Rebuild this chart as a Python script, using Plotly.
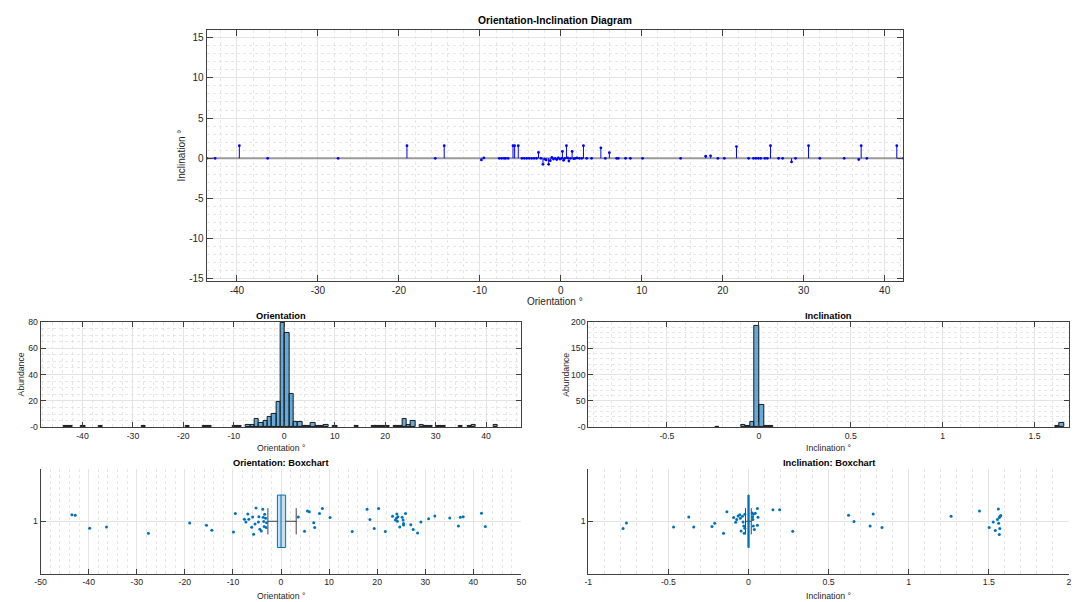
import numpy as np
import plotly.graph_objects as go

W, H = 1076, 602

# ---------------- data ----------------
# Orientation-Inclination stem diagram (orientation °, inclination °)
stem_orientation = [-43.74, -42.7, -39.7, -36.2, -27.5, -19.0, -15.5, -14.4, -9.8, -9.5,
                    -7.6, -7.3, -7.0, -6.8, -6.5, -5.9, -5.7, -5.25, -4.8, -4.5,
                    -4.2, -3.9, -3.6, -3.3, -3.0, -2.75, -2.45, -2.2, -2.0, -1.8,
                    -1.5, -1.3, -1.1, -0.9, -0.7, -0.5, -0.3, -0.1, 0.1, 0.2,
                    0.35, 0.5, 0.7, 0.85, 1.0, 1.2, 1.4, 1.6, 1.8, 2.0,
                    2.3, 2.6, 2.8, 3.2, 3.8, 4.95, 5.5, 6.0, 6.9, 7.1,
                    8.0, 8.6, 10.1, 14.8, 17.9, 18.5, 19.4, 20.2, 21.7, 23.2,
                    23.8, 24.1, 24.4, 24.7, 25.2, 25.5, 25.9, 26.9, 27.4, 28.5,
                    29.0, 30.6, 32.0, 35.0, 36.8, 37.1, 37.8, 41.5, 42.32]
stem_inclination = [0, 0, 1.57, 0, 0, 1.57, 0, 1.57, -0.2, 0.05,
                    0, 0, 0, 0, 0, 1.57, 1.57, 1.57, 0, 0,
                    0, 0, 0, 0, 0, 0.73, 0, -0.75, -0.1, -0.2,
                    -0.75, -0.3, 0.1, -0.1, 0.0, -0.15, 0.05, -0.1, 0.0, 0.85,
                    -0.25, 0.0, 1.57, 0.05, -0.35, 0.0, 0.85, -0.05, 0.0, 0.05,
                    0.0, 0.0, 1.57, 0.0, 0, 1.3, 0, 0.7, 0, 0,
                    0, 0, 0, 0, 0.25, 0.3, 0, 0, 1.45, 0,
                    0, 0, 0, 0, 0, 0, 1.57, 0, 0, -0.45,
                    0, 1.57, 0, 0, -0.15, 1.57, 0, 1.57, 0]

# Orientation histogram: 100 bins starting at -43.74, width 0.8606
ori_bin_start = -43.74
ori_bin_width = 0.8606
ori_counts = [1, 1, 0, 0, 1, 0, 0, 0, 1, 0,
              0, 0, 0, 0, 0, 0, 0, 0, 1, 0,
              0, 0, 0, 0, 0, 0, 0, 0, 1, 0,
              0, 0, 1, 1, 0, 0, 0, 0, 0, 1,
              1, 0, 2, 2, 6, 3, 5, 8, 10, 19,
              79, 72, 25, 4, 4, 1, 1, 3, 1, 1,
              2, 0, 1, 0, 0, 0, 0, 1, 0, 0,
              0, 1, 1, 1, 1, 0, 1, 1, 6, 2,
              5, 0, 2, 1, 1, 0, 1, 1, 0, 0,
              0, 1, 0, 1, 2, 0, 0, 0, 0, 2]

# Inclination histogram (bin centers, counts), bin width 0.025
inc_bin_width = 0.025
inc_centers = [-0.225, -0.085, -0.06, -0.035, -0.01, 0.015, 0.04, 0.065, 1.625, 1.65]
inc_counts = [1, 4, 3, 9, 193, 43, 2, 3, 2, 8]

# Boxchart statistics: q1, median, q3, lower whisker, upper whisker
ori_box = dict(q1=-0.75, med=0.0, q3=0.96, wlo=-2.73, whi=3.16)
inc_box = dict(q1=-0.004, med=0.0, q3=0.004, wlo=-0.019, whi=0.017)

# Jittered outliers (value, jittered position around group 1)
ori_out_x = [-43.5, -42.8, -39.8, -36.3, -27.6, -19.0, -15.5, -14.4, -9.9, -9.5,
             -7.6, -7.3, -6.9, -6.7, -6.1, -5.9, -5.7, -5.4, -5.2, -4.7,
             -4.6, -4.4, -4.1, -3.8, -3.7, -3.6, -3.5, -3.4, -3.2, -3.1,
             -3.0, 3.6, 4.9, 5.5, 5.9, 6.8, 7.0, 8.0, 8.6, 10.2,
             14.8, 17.9, 18.5, 19.4, 20.3, 21.7, 23.2, 23.8, 24.0, 24.1,
             24.2, 24.3, 24.7, 25.2, 25.4, 25.5, 25.5, 25.9, 27.0, 27.5,
             28.4, 29.1, 30.7, 32.0, 35.1, 36.9, 37.3, 37.9, 41.7, 42.5]
ori_out_y = [1.063, 1.057, 0.933, 0.946, 0.886, 0.984, 0.962, 0.914, 0.898, 1.073,
             1.019, 0.994, 1.070, 1.019, 0.943, 1.041, 0.876, 0.975, 1.127, 0.994,
             1.044, 0.924, 0.908, 1.114, 1.038, 0.997, 0.949, 1.067, 1.029, 0.940,
             0.987, 1.041, 0.905, 1.098, 1.092, 0.987, 0.940, 1.073, 1.121, 1.035,
             0.902, 1.114, 1.016, 0.930, 1.121, 0.902, 1.048, 1.013, 1.029, 1.070,
             1.000, 1.044, 0.946, 1.038, 1.013, 0.978, 0.965, 1.073, 0.968, 0.921,
             0.889, 0.994, 1.025, 1.051, 1.032, 0.956, 1.038, 1.044, 1.076, 0.949]

inc_out_x = [-0.783, -0.762, -0.468, -0.373, -0.342, -0.228, -0.211, -0.156, -0.135, -0.093,
             -0.080, -0.074, -0.065, -0.055, -0.051, -0.046, -0.038, -0.034, -0.030, -0.027,
             -0.023, -0.023, 0.023, 0.025, 0.027, 0.030, 0.030, 0.036, 0.042, 0.055,
             0.055, 0.059, 0.152, 0.194, 0.276, 0.624, 0.658, 0.759, 0.778, 0.833,
             1.264, 1.441, 1.502, 1.527, 1.540, 1.553, 1.559, 1.561, 1.565, 1.568,
             1.570, 1.565, 1.574]
inc_out_y = [0.930, 0.984, 0.946, 1.041, 0.946, 0.949, 0.981, 0.886, 1.092, 1.035,
             0.990, 1.016, 1.051, 1.063, 1.029, 0.908, 1.048, 0.994, 0.956, 0.886,
             1.067, 0.933, 1.079, 1.041, 1.016, 1.067, 0.956, 0.921, 1.076, 1.121,
             0.962, 1.038, 1.111, 1.111, 0.905, 1.057, 0.997, 0.956, 1.070, 0.940,
             1.048, 1.098, 0.940, 0.994, 0.911, 1.016, 1.117, 0.981, 1.035, 0.930,
             1.048, 0.873, 1.054]

# ---------------- styling ----------------
FONT = "Liberation Sans, Arial, Helvetica, sans-serif"
AXC = "#404040"
TXT = "#262626"
GRID = "#E4E4E4"
MGRID = "#E6E6E6"
MBLUE = "#0072BD"


def fx(px):
    return px / W


def fy(py):
    return 1 - py / H


def fmt(v):
    return "%g" % v


def axis(rng, major, minor, dom, anchor, box=True, fs=8.7, ticklen=5,
         tickvals=None, grid=True):
    if tickvals is None:
        start = np.ceil(rng[0] / major - 1e-9) * major
        tickvals = list(np.round(np.arange(start, rng[1] + 1e-9, major), 6))
    d = dict(
        range=rng, domain=dom, anchor=anchor,
        tickvals=tickvals, ticktext=[fmt(v) for v in tickvals],
        showline=True, linecolor=AXC, linewidth=1,
        mirror="ticks" if box else False,
        ticks="inside", ticklen=ticklen, tickcolor=AXC, tickwidth=1,
        tickfont=dict(family=FONT, size=fs, color=TXT),
        showgrid=grid, gridcolor=GRID, gridwidth=1, zeroline=False,
        fixedrange=True,
    )
    if minor is not None:
        d["minor"] = dict(dtick=minor, tick0=0, showgrid=True, gridcolor=MGRID,
                          griddash="dot", gridwidth=1, ticks="")
    return d


fig = go.Figure()

# ---- top: stem plot ----
o = np.array(stem_orientation)
inc = np.array(stem_inclination)
xmin, xmax = float(o.min()), float(o.max())
fig.add_trace(go.Scatter(x=[xmin, xmax], y=[0, 0], mode="lines",
                         line=dict(color="#9A9A9A", width=2), xaxis="x", yaxis="y",
                         hoverinfo="skip", showlegend=False))
sx, sy = [], []
for a, b in zip(o, inc):
    sx += [a, a, None]
    sy += [0, b, None]
fig.add_trace(go.Scatter(x=sx, y=sy, mode="lines", line=dict(color="#0000FF", width=1),
                         xaxis="x", yaxis="y", showlegend=False, hoverinfo="skip"))
fig.add_trace(go.Scatter(x=o, y=inc, mode="markers",
                         marker=dict(color="#0000FF", size=2.8),
                         xaxis="x", yaxis="y", showlegend=False))

# ---- orientation histogram ----
oc = np.array(ori_counts)
ocent = ori_bin_start + (np.arange(len(oc)) + 0.5) * ori_bin_width
nz = oc > 0
fig.add_trace(go.Bar(x=ocent[nz], y=oc[nz], width=ori_bin_width,
                     marker=dict(color="rgba(0,114,189,0.6)",
                                 line=dict(color="#1A1A1A", width=1)),
                     xaxis="x2", yaxis="y2", showlegend=False))

# ---- inclination histogram ----
fig.add_trace(go.Bar(x=inc_centers, y=inc_counts, width=inc_bin_width,
                     marker=dict(color="rgba(0,114,189,0.6)",
                                 line=dict(color="#1A1A1A", width=1)),
                     xaxis="x3", yaxis="y3", showlegend=False))


# ---- boxcharts ----
def add_box(stats, ox, oy, xa, ya):
    wx = [stats["wlo"], stats["q1"], None, stats["q3"], stats["whi"], None,
          stats["wlo"], stats["wlo"], None, stats["whi"], stats["whi"]]
    wy = [1, 1, None, 1, 1, None, 0.875, 1.125, None, 0.875, 1.125]
    fig.add_trace(go.Scatter(x=wx, y=wy, mode="lines", line=dict(color="#404040", width=1),
                             xaxis=xa, yaxis=ya, showlegend=False, hoverinfo="skip"))
    fig.add_trace(go.Box(y=[1], q1=[stats["q1"]], median=[stats["med"]], q3=[stats["q3"]],
                         lowerfence=[stats["q1"]], upperfence=[stats["q3"]],
                         orientation="h", width=0.5, whiskerwidth=0,
                         fillcolor="rgba(0,114,189,0.22)",
                         line=dict(color=MBLUE, width=1), boxpoints=False,
                         xaxis=xa, yaxis=ya, showlegend=False))
    fig.add_trace(go.Scatter(x=ox, y=oy, mode="markers",
                             marker=dict(color=MBLUE, size=3),
                             xaxis=xa, yaxis=ya, showlegend=False))


add_box(ori_box, ori_out_x, ori_out_y, "x4", "y4")
add_box(inc_box, inc_out_x, inc_out_y, "x5", "y5")

# ---------------- layout ----------------
L1, R1 = 35, 520.7
L2, R2 = 588.3, 1074
HT, HB = 322.3, 429.3
BT, BB = 471.7, 578.3

layout = dict(
    width=W, height=H, margin=dict(l=0, r=0, t=0, b=0),
    paper_bgcolor="white", plot_bgcolor="white", showlegend=False,
    bargap=0, barmode="overlay", boxmode="overlay",
    xaxis=axis([-43.74, 42.32], 10, 2, [fx(202.7), fx(906.7)], "y", fs=10, ticklen=6),
    yaxis=axis([-15.26, 16.0], 5, 1, [fy(280.7), fy(25)], "x", fs=10, ticklen=6),
    xaxis2=axis([-48.3, 47.0], 10, 2, [fx(L1), fx(R1)], "y2"),
    yaxis2=axis([0, 80], 20, 5, [fy(HB), fy(HT)], "x2"),
    xaxis3=axis([-0.928, 1.688], 0.5, 0.1, [fx(L2), fx(R2)], "y3"),
    yaxis3=axis([0, 200], 50, 10, [fy(HB), fy(HT)], "x3"),
    xaxis4=axis([-50, 50], 10, 2, [fx(L1), fx(R1)], "y4", box=False),
    yaxis4=axis([0.5, 1.5], 1, None, [fy(BB), fy(BT)], "x4", box=False, tickvals=[1]),
    xaxis5=axis([-1, 2], 0.5, 0.1, [fx(L2), fx(R2)], "y5", box=False),
    yaxis5=axis([0.5, 1.5], 1, None, [fy(BB), fy(BT)], "x5", box=False, tickvals=[1]),
)

annotations = []


def text(t, x, y, size, bold=False, angle=0, color=TXT):
    annotations.append(dict(
        text=("<b>%s</b>" % t) if bold else t, x=fx(x), y=fy(y), xref="paper", yref="paper",
        showarrow=False, xanchor="center", yanchor="middle", textangle=angle,
        font=dict(family=FONT, size=size, color=color)))


text("Orientation-Inclination Diagram", (202.7 + 906.7) / 2, 16, 10.3, bold=True, color="#000")
text("Orientation °", (202.7 + 906.7) / 2, 302, 10)
text("Inclination °", 177, (25 + 280.7) / 2, 10, angle=-90)

text("Orientation", (L1 + R1) / 2, 316, 9.3, bold=True, color="#000")
text("Inclination", (L2 + R2) / 2, 316, 9.3, bold=True, color="#000")
text("Abundance", 15, (HT + HB) / 2, 8.7, angle=-90)
text("Abundance", 565, (HT + HB) / 2, 8.7, angle=-90)
text("Orientation °", (L1 + R1) / 2, 450, 8.7)
text("Inclination °", (L2 + R2) / 2, 450, 8.7)

text("Orientation: Boxchart", (L1 + R1) / 2, 465.5, 9.3, bold=True, color="#000")
text("Inclination: Boxchart", (L2 + R2) / 2, 465.5, 9.3, bold=True, color="#000")
text("Orientation °", (L1 + R1) / 2, 601, 8.7)
text("Inclination °", (L2 + R2) / 2, 601, 8.7)

layout["annotations"] = annotations
fig.update_layout(**layout)

fig.write_html("out.html", config=dict(displayModeBar=False))
